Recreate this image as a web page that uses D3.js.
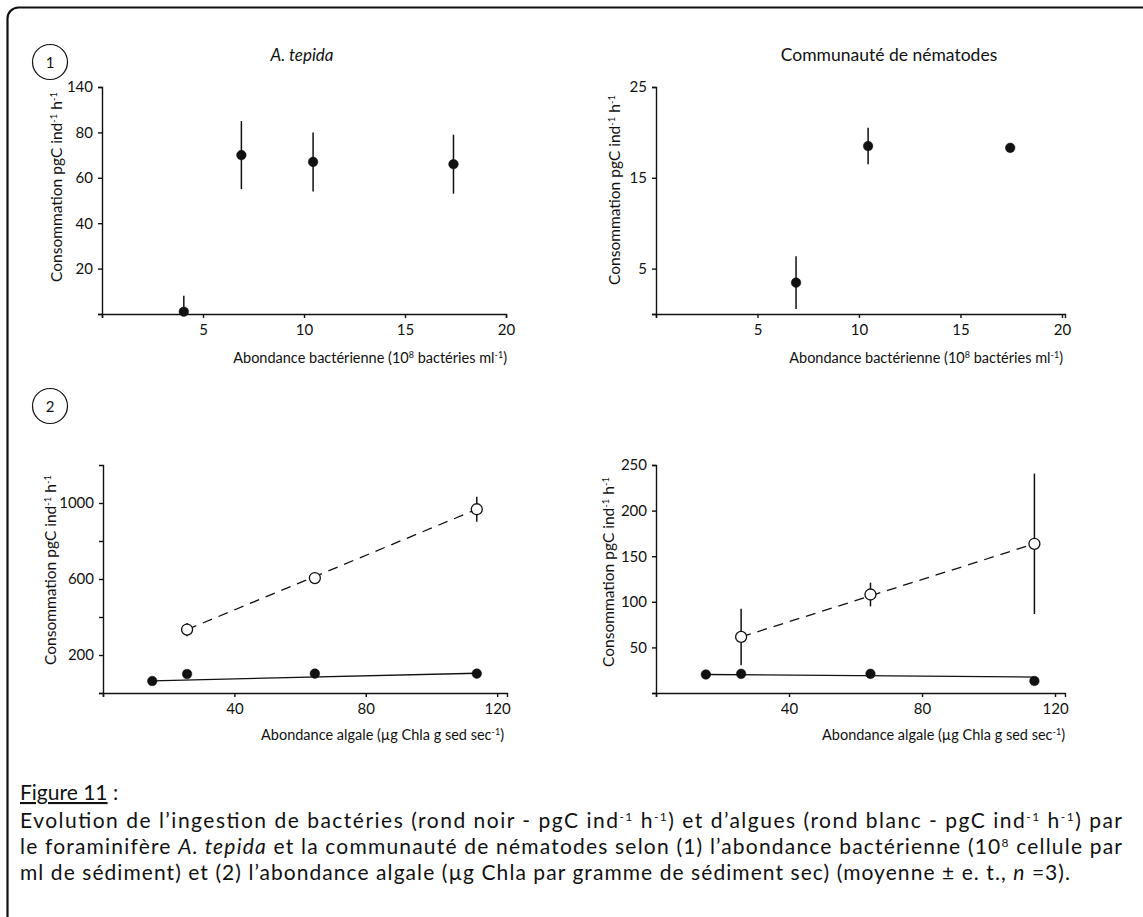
<!DOCTYPE html>
<html>
<head lang="fr">
    <meta charset="utf-8">
    <title>Figure 11 - consommation</title>
    <style type="text/css">
        body {
            margin: 0;
            background: #fff;
        }

        svg text {
            font-family: Lato, "Open Sans", sans-serif;
            fill: #111;
        }

        .axis path,
        .axis line {
            stroke: #111;
            stroke-width: 1.4;
        }

        .axis text {
            font-size: 15px;
        }
    </style>
</head>
<body>

<script src="https://cdn.jsdelivr.net/npm/d3@7"></script>
<script type="text/javascript">
    // (1) abondance bacterienne -> ingestion de bacteries
    var bactX_tepida = [4.05, 6.9, 10.45, 17.4];
    var bactY_tepida = [1, 70, 67, 66];
    var bactErr_tepida = [7, 15, 13, 13];

    var bactX_nema = [6.9, 10.45, 17.45];
    var bactY_nema = [3.45, 18.5, 18.3];
    var bactErr_nema = [2.9, 2, 0];

    // (2) abondance algale -> rond noir (bacteries) et rond blanc (algues)
    var algX_noir = [15, 25.6, 64.5, 113.8];
    var algX_blanc = [25.6, 64.5, 113.8];

    var noirY_tepida = [63, 100, 102, 102];
    var blancY_tepida = [334, 605, 967];
    var blancErr_tepida = [35, 0, 66];

    var noirY_nema = [20.3, 21, 21, 13.2];
    var blancY_nema = [61.5, 108, 163.6];
    var blancErr_nema = [31, 13, 77];

    // droites d'ajustement (extremites)
    var fitNoir_tepida = [[15, 64], [113.8, 104]];
    var fitBlanc_tepida = [[25.6, 334], [113.8, 967]];
    var fitNoir_nema = [[15, 20.3], [113.8, 17.5]];
    var fitBlanc_nema = [[25.6, 61.5], [113.8, 163.6]];

    // graduations
    var ticksY_tepida1 = [0, 20, 40, 60, 80, 100];
    var labelsY_tepida1 = ["", "20", "40", "60", "80", "140"];  // axe coupe : 100 -> 140
    var ticksY_nema1 = [0, 5, 15, 25];
    var ticksY_tepida2 = [0, 200, 400, 600, 800, 1000];
    var labelsY_tepida2 = ["", "200", "", "600", "", "1000"];
    var ticksY_nema2 = [0, 50, 100, 150, 200, 250];
    var ticksX_bact = [0, 5, 10, 15, 20];
    var ticksX_alg = [0, 40, 80, 120];

    var svg = d3.select("body")
        .append("svg")
        .attr("width", 1143)
        .attr("height", 917);

    //cadre
    svg.append("rect")
        .attr("x", 7.5).attr("y", 7.5)
        .attr("width", 1160).attr("height", 940)
        .attr("rx", 11)
        .attr("fill", "none")
        .attr("stroke", "#111")
        .attr("stroke-width", 2.2);

    //numeros entoures
    [["1", 50, 62], ["2", 50, 406]].forEach(function (n) {
        svg.append("circle")
            .attr("cx", n[1]).attr("cy", n[2]).attr("r", 17.5)
            .attr("fill", "none").attr("stroke", "#111").attr("stroke-width", 1.2);
        svg.append("text")
            .attr("x", n[1]).attr("y", n[2] + 5.5)
            .attr("text-anchor", "middle")
            .style("font-size", "15px")
            .text(n[0]);
    });

    //titres
    svg.append("text")
        .attr("x", 302).attr("y", 61)
        .attr("text-anchor", "middle")
        .style("font-size", "17px").style("font-style", "italic")
        .text("A. tepida");
    svg.append("text")
        .attr("x", 889).attr("y", 61)
        .attr("text-anchor", "middle")
        .style("font-size", "17.5px")
        .text("Communauté de nématodes");

    function yLabel(g, x, y) {
        var t = g.append("text")
            .attr("transform", "translate(" + x + "," + y + ") rotate(-90)")
            .attr("text-anchor", "middle")
            .style("font-size", "15.5px");
        t.append("tspan").text("Consommation pgC ind");
        t.append("tspan").attr("baseline-shift", "super").style("font-size", "9.5px").text("-1");
        t.append("tspan").text(" h");
        t.append("tspan").attr("baseline-shift", "super").style("font-size", "9.5px").text("-1");
    }

    function xLabel(g, x, y, bact) {
        var t = g.append("text")
            .attr("x", x).attr("y", y)
            .attr("text-anchor", "end")
            .style("font-size", "14.5px");
        if (bact) {
            t.append("tspan").text("Abondance bactérienne (10");
            t.append("tspan").attr("baseline-shift", "super").style("font-size", "9px").text("8");
            t.append("tspan").text(" bactéries ml");
            t.append("tspan").attr("baseline-shift", "super").style("font-size", "9px").text("-1");
            t.append("tspan").text(")");
        } else {
            t.append("tspan").text("Abondance algale (µg Chla g sed sec");
            t.append("tspan").attr("baseline-shift", "super").style("font-size", "9px").text("-1");
            t.append("tspan").text(")");
        }
    }

    // un panneau : axes + barres d'erreur + points
    function panel(p) {
        var g = svg.append("g");
        var x = d3.scaleLinear().domain(p.xDomain).range(p.xRange);
        var y = d3.scaleLinear().domain(p.yDomain).range(p.yRange);

        g.append("g").attr("class", "axis")
            .attr("transform", "translate(0," + p.yRange[0] + ")")
            .call(d3.axisBottom(x).tickValues(p.xTicks).tickSizeOuter(0).tickSize(4).tickPadding(6)
                .tickFormat(function (d) { return d === 0 ? "" : d; }));

        g.append("g").attr("class", "axis")
            .attr("transform", "translate(" + p.xRange[0] + ",0)")
            .call(d3.axisLeft(y).tickValues(p.yTicks).tickSizeOuter(0).tickSize(4).tickPadding(5)
                .tickFormat(function (d, i) { return p.yLabels ? p.yLabels[i] : (d === 0 ? "" : d); }));

        var line = d3.line()
            .x(function (d) { return x(d[0]); })
            .y(function (d) { return y(d[1]); });

        p.fits.forEach(function (f) {
            g.append("path")
                .attr("d", line(f.pts))
                .attr("fill", "none")
                .attr("stroke", "#111")
                .attr("stroke-width", 1.3)
                .attr("stroke-dasharray", f.dash ? "10,7" : null);
        });

        p.series.forEach(function (s) {
            var pts = s.x.map(function (v, i) {
                return {x: v, y: s.y[i], e: s.err ? s.err[i] : 0};
            });
            g.selectAll(null).data(pts.filter(function (d) { return d.e > 0; }))
                .enter().append("line")
                .attr("x1", function (d) { return x(d.x); })
                .attr("x2", function (d) { return x(d.x); })
                .attr("y1", function (d) { return y(Math.max(0, d.y - d.e)); })
                .attr("y2", function (d) { return y(d.y + d.e); })
                .attr("stroke", "#111")
                .attr("stroke-width", 1.5);
            g.selectAll(null).data(pts)
                .enter().append("circle")
                .attr("cx", function (d) { return x(d.x); })
                .attr("cy", function (d) { return y(d.y); })
                .attr("r", s.open ? 5.5 : 4.8)
                .attr("fill", s.open ? "#fff" : "#111")
                .attr("stroke", "#111")
                .attr("stroke-width", s.open ? 1.3 : 0.5);
        });

        yLabel(g, p.yLab[0], p.yLab[1]);
        xLabel(g, p.xLab[0], p.xLab[1], p.bact);
    }

    panel({
        xDomain: [0, 20], xRange: [102, 506], yDomain: [0, 100], yRange: [314, 87],
        xTicks: ticksX_bact, yTicks: ticksY_tepida1, yLabels: labelsY_tepida1,
        series: [{x: bactX_tepida, y: bactY_tepida, err: bactErr_tepida}],
        fits: [], yLab: [62, 187], xLab: [507, 363], bact: true
    });

    panel({
        xDomain: [0, 20.15], xRange: [656, 1065], yDomain: [0, 25], yRange: [314, 87],
        xTicks: ticksX_bact, yTicks: ticksY_nema1,
        series: [{x: bactX_nema, y: bactY_nema, err: bactErr_nema}],
        fits: [], yLab: [620, 190], xLab: [1063, 363], bact: true
    });

    panel({
        xDomain: [0, 123], xRange: [103, 507], yDomain: [0, 1200], yRange: [693, 465],
        xTicks: ticksX_alg, yTicks: ticksY_tepida2, yLabels: labelsY_tepida2,
        series: [
            {x: algX_noir, y: noirY_tepida},
            {x: algX_blanc, y: blancY_tepida, err: blancErr_tepida, open: true}
        ],
        fits: [{pts: fitNoir_tepida}, {pts: fitBlanc_tepida, dash: true}],
        yLab: [56, 570], xLab: [504, 740], bact: false
    });

    panel({
        xDomain: [0, 123], xRange: [656, 1065], yDomain: [0, 250], yRange: [693, 465],
        xTicks: ticksX_alg, yTicks: ticksY_nema2,
        series: [
            {x: algX_noir, y: noirY_nema},
            {x: algX_blanc, y: blancY_nema, err: blancErr_nema, open: true}
        ],
        fits: [{pts: fitNoir_nema}, {pts: fitBlanc_nema, dash: true}],
        yLab: [614, 572], xLab: [1065, 740], bact: false
    });

    //legende de la figure
    var cap = svg.append("g").style("font-size", "21px");
    var t0 = cap.append("text").attr("x", 20).attr("y", 800);
    t0.append("tspan").style("text-decoration", "underline").text("Figure 11");
    t0.append("tspan").text(" :");

    function sup(t, s) {
        t.append("tspan").attr("baseline-shift", "super").style("font-size", "12px").text(s);
    }

    var t1 = cap.append("text").attr("x", 20).attr("y", 828)
        .attr("textLength", 1102).attr("lengthAdjust", "spacing");
    t1.append("tspan").text("Evolution de l’ingestion de bactéries (rond noir - pgC ind");
    sup(t1, "-1");
    t1.append("tspan").text(" h");
    sup(t1, "-1");
    t1.append("tspan").text(") et d’algues (rond blanc - pgC ind");
    sup(t1, "-1");
    t1.append("tspan").text(" h");
    sup(t1, "-1");
    t1.append("tspan").text(") par");

    var t2 = cap.append("text").attr("x", 20).attr("y", 854)
        .attr("textLength", 1102).attr("lengthAdjust", "spacing");
    t2.append("tspan").text("le foraminifère ");
    t2.append("tspan").style("font-style", "italic").text("A. tepida");
    t2.append("tspan").text(" et la communauté de nématodes selon (1) l’abondance bactérienne (10");
    sup(t2, "8");
    t2.append("tspan").text(" cellule par");

    var t3 = cap.append("text").attr("x", 20).attr("y", 880)
        .attr("textLength", 1050).attr("lengthAdjust", "spacing");
    t3.append("tspan").text("ml de sédiment) et (2) l’abondance algale (µg Chla par gramme de sédiment sec) (moyenne ± e. t., ");
    t3.append("tspan").style("font-style", "italic").text("n");
    t3.append("tspan").text(" =3).");
</script>
</body>
</html>
